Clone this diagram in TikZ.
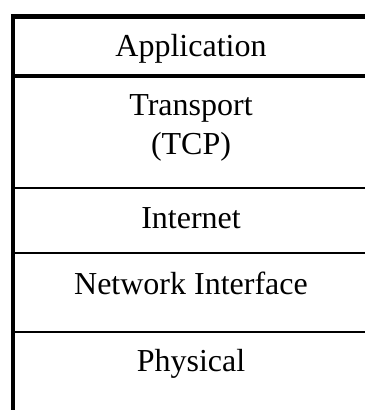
\documentclass[tikz,border=0pt]{standalone}
\usepackage{fontspec}
\setmainfont{Liberation Serif}
\begin{document}
\begin{tikzpicture}[x=1pt,y=-1pt,
  layer/.style={inner sep=0pt,font=\fontsize{32}{38}\selectfont,align=center},
  heavy/.style={line width=4.5pt},
  medium/.style={line width=4pt},
  light/.style={line width=2.2pt}]
  % canvas
  \useasboundingbox (0,0) rectangle (365,410);
  % frame: left edge and top edge of the stack
  \draw[heavy] (13,410) -- (13,14.2);
  \draw[heavy] (10.8,16.5) -- (365,16.5);
  % separators between layers
  \coordinate (s1l) at (13,75.5);    \coordinate (s1r) at (365,75.5);
  \coordinate (s2l) at (13,187.6);   \coordinate (s2r) at (365,187.6);
  \coordinate (s3l) at (13,252.7);   \coordinate (s3r) at (365,252.7);
  \coordinate (s4l) at (13,332);     \coordinate (s4r) at (365,332);
  \draw[medium] (s1l) -- (s1r);
  \draw[light] (s2l) -- (s2r);
  \draw[light] (s3l) -- (s3r);
  \draw[light] (s4l) -- (s4r);
  % layer names
  \node[layer,anchor=base] (app)   at (191,56.5)  {Application};
  \node[layer,anchor=base] (trans) at (191,115.7) {Transport};
  \node[layer,anchor=base] (tcp)   at (191,154)   {(TCP)};
  \node[layer,anchor=base] (inet)  at (191,228.3) {Internet};
  \node[layer,anchor=base] (netif) at (191,294.3) {Network Interface};
  \node[layer,anchor=base] (phys)  at (191,371.7) {Physical};
\end{tikzpicture}
\end{document}
